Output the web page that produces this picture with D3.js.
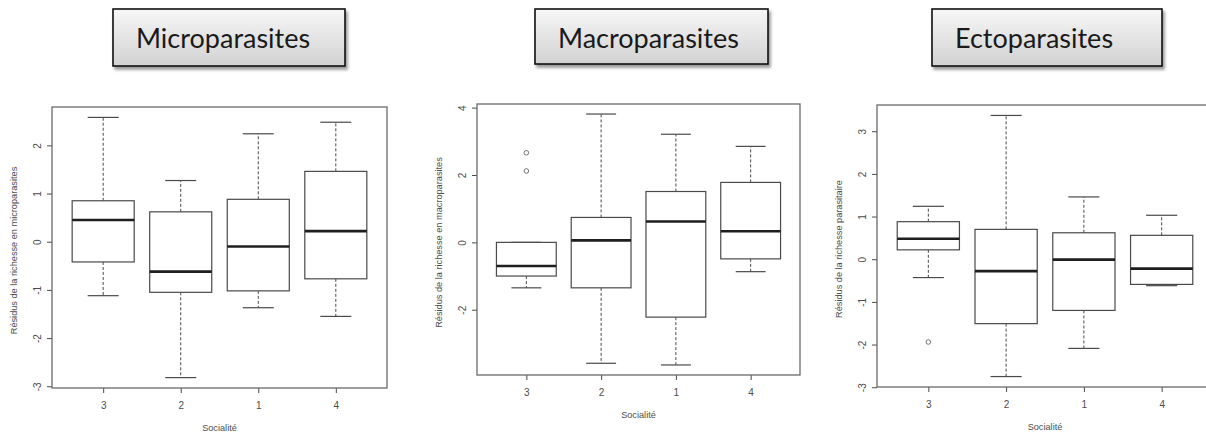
<!DOCTYPE html>
<html>
<head>
<meta charset="utf-8">
<script src="https://cdn.jsdelivr.net/npm/d3@7"></script>
<style>
  body { margin: 0; background: #fff; }
  svg { display: block; }
</style>
</head>
<body>
<div id="wrapper"></div>
<script>
// data
const groups = ["3", "2", "1", "4"]
const titles = ["Microparasites", "Macroparasites", "Ectoparasites"]
const yTitles = [
  "Résidus de la richesse en microparasites",
  "Résidus de la richesse en macroparasites",
  "Résidus de la richesse parasitaire"
]

// [low whisker, Q1, median, Q3, high whisker] for each group
const microStats = [
  [-1.12, -0.42, 0.45, 0.85, 2.58],
  [-2.82, -1.05, -0.62, 0.62, 1.27],
  [-1.37, -1.02, -0.10, 0.88, 2.24],
  [-1.55, -0.77, 0.22, 1.46, 2.48]
]
const macroStats = [
  [-1.35, -1.00, -0.70, 0.00, 0.00],
  [-3.59, -1.35, 0.06, 0.74, 3.81],
  [-3.64, -2.22, 0.62, 1.51, 3.21],
  [-0.87, -0.49, 0.33, 1.78, 2.85]
]
const ectoStats = [
  [-0.43, 0.22, 0.48, 0.88, 1.24],
  [-2.75, -1.51, -0.28, 0.70, 3.37],
  [-2.09, -1.20, -0.01, 0.62, 1.46],
  [-0.62, -0.59, -0.22, 0.56, 1.03]
]

const microOutliers = [[], [], [], []]
const macroOutliers = [[2.66, 2.12], [], [], []]
const ectoOutliers = [[-1.94], [], [], []]

const microTicks = [-3, -2, -1, 0, 1, 2]
const macroTicks = [-2, 0, 2, 4]
const ectoTicks = [-3, -2, -1, 0, 1, 2, 3]

// layout
const width = 1206
const height = 436

const panels = [
  { title: titles[0], yTitle: yTitles[0], stats: microStats, outliers: microOutliers, ticks: microTicks,
    box: { x: 113, y: 9, w: 232, h: 57 },
    frame: { left: 52, right: 387, top: 107, bottom: 388 } },
  { title: titles[1], yTitle: yTitles[1], stats: macroStats, outliers: macroOutliers, ticks: macroTicks,
    box: { x: 535, y: 9, w: 233, h: 55 },
    frame: { left: 477, right: 800, top: 104, bottom: 375 } },
  { title: titles[2], yTitle: yTitles[2], stats: ectoStats, outliers: ectoOutliers, ticks: ectoTicks,
    box: { x: 932, y: 9, w: 230, h: 57 },
    frame: { left: 877, right: 1213, top: 105, bottom: 387 } }
]

const svg = d3.select("#wrapper")
  .append("svg")
  .attr("width", width)
  .attr("height", height)

const defs = svg.append("defs")

const grad = defs.append("linearGradient")
  .attr("id", "boxFill")
  .attr("x1", 0).attr("y1", 0).attr("x2", 0).attr("y2", 1)
grad.append("stop").attr("offset", "0%").attr("stop-color", "#f7f7f7")
grad.append("stop").attr("offset", "100%").attr("stop-color", "#d2d2d2")

defs.append("filter")
  .attr("id", "shadow")
  .attr("x", "-10%").attr("y", "-20%").attr("width", "120%").attr("height", "150%")
  .append("feDropShadow")
  .attr("dx", 2).attr("dy", 3)
  .attr("stdDeviation", 1.6)
  .attr("flood-color", "#000")
  .attr("flood-opacity", 0.4)

const lineCol = "#4a4a4a"
const textCol = "#4d4d4d"

const drawPanel = p => {
  const g = svg.append("g")

  // title box (shape above each plot)
  g.append("rect")
    .attr("x", p.box.x)
    .attr("y", p.box.y)
    .attr("width", p.box.w)
    .attr("height", p.box.h)
    .attr("fill", "url(#boxFill)")
    .attr("stroke", "#111")
    .attr("stroke-width", 1.6)
    .attr("filter", "url(#shadow)")

  g.append("text")
    .attr("x", p.box.x + 23)
    .attr("y", p.box.y + 39)
    .text(p.title)
    .style("font-family", "Lato, 'Open Sans', sans-serif")
    .style("font-size", "27px")
    .style("fill", "#1a1a1a")

  const f = p.frame

  // R style: limits = data range +/- 4%
  const allVals = p.stats.flat().concat(p.outliers.flat())
  const [lo, hi] = d3.extent(allVals)
  const pad = (hi - lo) * 0.04

  const yScale = d3.scaleLinear()
    .domain([lo - pad, hi + pad])
    .range([f.bottom, f.top])

  const xScale = d3.scaleLinear()
    .domain([0.5 - 0.16, groups.length + 0.5 + 0.16])
    .range([f.left, f.right])

  const unit = xScale(2) - xScale(1)
  const halfBox = unit * 0.4
  const halfCap = unit * 0.2

  // axes
  const yAxis = g.append("g")
    .attr("transform", `translate(${f.left},0)`)
    .call(d3.axisLeft(yScale).tickValues(p.ticks).tickSize(5).tickFormat(d3.format("d")))
  yAxis.select(".domain").remove()
  yAxis.selectAll("line").attr("stroke", lineCol).attr("stroke-width", 1)
  yAxis.selectAll("text")
    .attr("x", null).attr("dy", null)
    .attr("transform", "translate(-15,0) rotate(-90)")
    .attr("dy", "0.35em")
    .style("text-anchor", "middle")
    .style("font-family", "'Liberation Sans', Arial, sans-serif")
    .style("font-size", "10px")
    .style("fill", textCol)
    .text(d => d < 0 ? "-" + Math.abs(d) : d)

  const xAxis = g.append("g")
    .attr("transform", `translate(0,${f.bottom})`)
    .call(d3.axisBottom(xScale).tickValues([1, 2, 3, 4]).tickSize(5).tickFormat((d, i) => groups[i]))
  xAxis.select(".domain").remove()
  xAxis.selectAll("line").attr("stroke", lineCol).attr("stroke-width", 1)
  xAxis.selectAll("text")
    .attr("y", 17).attr("dy", "0.35em")
    .style("font-family", "'Liberation Sans', Arial, sans-serif")
    .style("font-size", "10px")
    .style("fill", textCol)

  // frame
  g.append("rect")
    .attr("x", f.left)
    .attr("y", f.top)
    .attr("width", f.right - f.left)
    .attr("height", f.bottom - f.top)
    .attr("fill", "none")
    .attr("stroke", "#6a6a6a")
    .attr("stroke-width", 1.3)

  // axis titles
  g.append("text")
    .attr("transform", `translate(${f.left - 38},${(f.top + f.bottom) / 2 + 3}) rotate(-90)`)
    .attr("dy", "0.35em")
    .style("text-anchor", "middle")
    .style("font-family", "'Liberation Sans', Arial, sans-serif")
    .style("font-size", "9.2px")
    .style("fill", textCol)
    .text(p.yTitle)

  g.append("text")
    .attr("x", xScale(2.5))
    .attr("y", f.bottom + 40)
    .attr("dy", "0.35em")
    .style("text-anchor", "middle")
    .style("font-family", "'Liberation Sans', Arial, sans-serif")
    .style("font-size", "9.2px")
    .style("fill", textCol)
    .text("Socialité")

  // boxes
  const boxes = g.append("g")
    .selectAll("g")
    .data(p.stats)
    .join("g")

  const cx = (d, i) => xScale(i + 1)

  // whiskers (dashed)
  boxes.append("line")
    .attr("x1", cx).attr("x2", cx)
    .attr("y1", d => yScale(d[3])).attr("y2", d => yScale(d[4]))
    .attr("stroke", lineCol).attr("stroke-width", 1)
    .attr("stroke-dasharray", "3 2")
  boxes.append("line")
    .attr("x1", cx).attr("x2", cx)
    .attr("y1", d => yScale(d[1])).attr("y2", d => yScale(d[0]))
    .attr("stroke", lineCol).attr("stroke-width", 1)
    .attr("stroke-dasharray", "3 2")

  // caps
  ;[0, 4].forEach(k => {
    boxes.append("line")
      .attr("x1", (d, i) => cx(d, i) - halfCap)
      .attr("x2", (d, i) => cx(d, i) + halfCap)
      .attr("y1", d => yScale(d[k])).attr("y2", d => yScale(d[k]))
      .attr("stroke", lineCol).attr("stroke-width", 1.2)
  })

  boxes.append("rect")
    .attr("x", (d, i) => cx(d, i) - halfBox)
    .attr("width", halfBox * 2)
    .attr("y", d => yScale(d[3]))
    .attr("height", d => yScale(d[1]) - yScale(d[3]))
    .attr("fill", "#fff")
    .attr("stroke", lineCol)
    .attr("stroke-width", 1.2)

  boxes.append("line")
    .attr("x1", (d, i) => cx(d, i) - halfBox)
    .attr("x2", (d, i) => cx(d, i) + halfBox)
    .attr("y1", d => yScale(d[2])).attr("y2", d => yScale(d[2]))
    .attr("stroke", "#1e1e1e").attr("stroke-width", 2.6)

  // outliers
  p.outliers.forEach((vals, i) => {
    g.selectAll(null)
      .data(vals)
      .join("circle")
      .attr("cx", xScale(i + 1))
      .attr("cy", d => yScale(d))
      .attr("r", 2.3)
      .attr("fill", "none")
      .attr("stroke", "#666")
      .attr("stroke-width", 0.9)
  })
}

panels.forEach(drawPanel)
</script>
</body>
</html>
